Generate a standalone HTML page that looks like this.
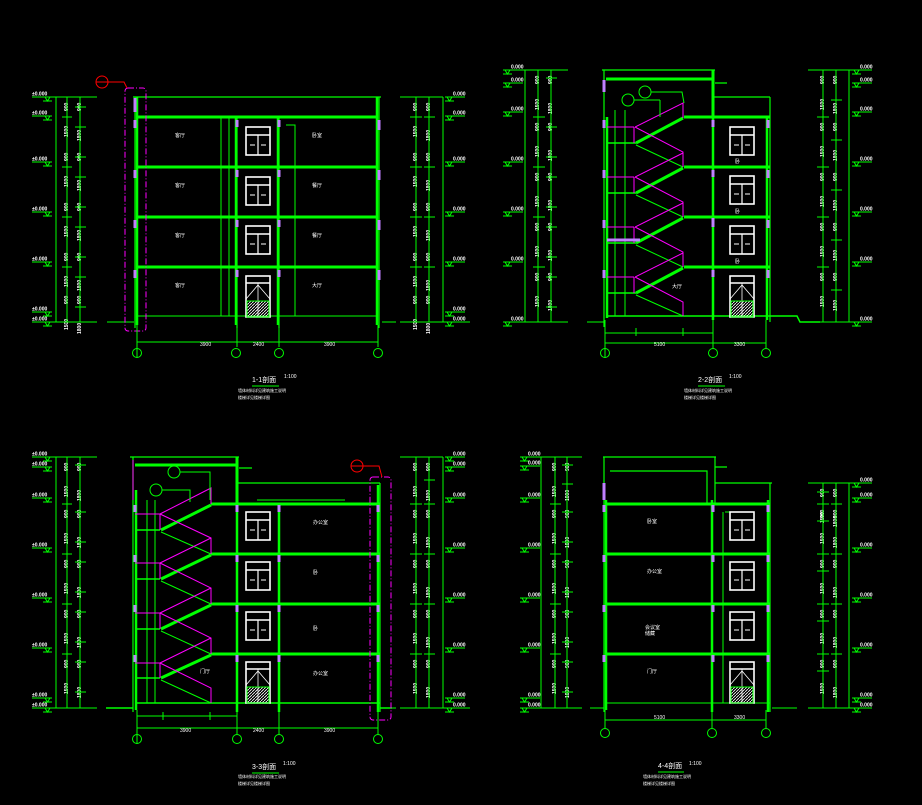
<!DOCTYPE html>
<html><head><meta charset="utf-8"><style>
html,body{margin:0;padding:0;background:#000;width:922px;height:805px;overflow:hidden}
svg{display:block}
text{font-family:"Liberation Sans","Noto Sans CJK SC",sans-serif;fill:#fff;stroke:none;font-size:5px}
.v{font-size:5px;font-weight:bold}
</style></head><body>
<svg width="922" height="805" viewBox="0 0 922 805" xmlns="http://www.w3.org/2000/svg">
<defs>
<g id="win"><rect x="0" y="0" width="24" height="28" fill="none" stroke="#fff" stroke-width="1.6"/><line x1="0" y1="8" x2="24" y2="8" stroke="#fff" stroke-width="1.6"/><line x1="12" y1="8" x2="12" y2="28" stroke="#fff" stroke-width="1.2"/><line x1="4" y1="18" x2="9" y2="18" stroke="#fff"/><line x1="15" y1="18" x2="20" y2="18" stroke="#fff"/></g>
<pattern id="hat" width="3" height="3" patternUnits="userSpaceOnUse"><path d="M0 3L3 0" stroke="#fff" stroke-width="0.8"/></pattern>
<g id="door"><rect x="0" y="0" width="24" height="41" fill="none" stroke="#fff" stroke-width="1.6"/><line x1="0" y1="7" x2="24" y2="7" stroke="#fff" stroke-width="1.4"/><path d="M0 23L12 9L24 23M12 7V41" stroke="#fff" fill="none" stroke-width="0.8"/><rect x="1" y="25" width="22" height="16" fill="url(#hat)"/></g>
<g id="em"><line x1="-20" y1="0" x2="0" y2="0" stroke="#0f0"/><path d="M-7 0L-2 0L-4.5 4Z M-9 4L0 4" stroke="#0f0" fill="none"/><text x="-20" y="-1.5" class="v">±0.000</text></g>
<g id="emr"><line x1="0" y1="0" x2="20" y2="0" stroke="#0f0"/><path d="M2 0L7 0L4.5 4Z M0 4L9 4" stroke="#0f0" fill="none"/><text x="8" y="-1.5" class="v">0.000</text></g>
<g id="ch"><text transform="rotate(-90)" x="-14" y="-1" class="v">900</text><text transform="rotate(-90)" x="-40" y="-1" class="v">1500</text><text transform="rotate(-90)" x="-14" y="12" class="v">900</text><text transform="rotate(-90)" x="-44" y="12" class="v">1800</text></g>
</defs>
<!-- dimension chain text -->
<use href="#ch" x="69" y="97"/><use href="#ch" x="69" y="147"/><use href="#ch" x="69" y="197"/><use href="#ch" x="69" y="247"/><use href="#ch" x="69" y="290"/>
<use href="#ch" x="418" y="97"/><use href="#ch" x="418" y="147"/><use href="#ch" x="418" y="197"/><use href="#ch" x="418" y="247"/><use href="#ch" x="418" y="290"/>
<use href="#ch" x="540" y="70"/><use href="#ch" x="540" y="117"/><use href="#ch" x="540" y="167"/><use href="#ch" x="540" y="217"/><use href="#ch" x="540" y="267"/>
<use href="#ch" x="825" y="70"/><use href="#ch" x="825" y="117"/><use href="#ch" x="825" y="167"/><use href="#ch" x="825" y="217"/><use href="#ch" x="825" y="267"/>
<use href="#ch" x="69" y="457"/><use href="#ch" x="69" y="504"/><use href="#ch" x="69" y="554"/><use href="#ch" x="69" y="604"/><use href="#ch" x="69" y="654"/>
<use href="#ch" x="418" y="457"/><use href="#ch" x="418" y="504"/><use href="#ch" x="418" y="554"/><use href="#ch" x="418" y="604"/><use href="#ch" x="418" y="654"/>
<use href="#ch" x="557" y="457"/><use href="#ch" x="557" y="504"/><use href="#ch" x="557" y="554"/><use href="#ch" x="557" y="604"/><use href="#ch" x="557" y="654"/>
<use href="#ch" x="825" y="483"/><use href="#ch" x="825" y="504"/><use href="#ch" x="825" y="554"/><use href="#ch" x="825" y="604"/><use href="#ch" x="825" y="654"/>
<g stroke="#0f0" fill="none">

<!-- ============ SECTION 1 ============ -->
<g>
<path d="M56 97V322M67 97V322M80 97V322M50 97H97M40 322H97"/>
<path d="M62 117H72M62 167H72M62 217H72M62 267H72M75 107H86M75 127H86M75 157H86M75 177H86M75 207H86M75 227H86M75 257H86M75 277H86M75 307H86"/>
<use href="#em" x="52" y="97"/><use href="#em" x="52" y="116"/><use href="#em" x="52" y="162"/><use href="#em" x="52" y="212"/><use href="#em" x="52" y="262"/><use href="#em" x="52" y="312"/><use href="#em" x="52" y="322"/>
<path d="M416 97V322M429 97V322M443 97V322M400 97H443M400 322H470M382 322H396"/>
<path d="M410 117H422M410 167H422M410 217H422M410 267H422M424 117H435M424 167H435M424 217H435M424 267H435"/>
<use href="#emr" x="445" y="97"/><use href="#emr" x="445" y="116"/><use href="#emr" x="445" y="162"/><use href="#emr" x="445" y="212"/><use href="#emr" x="445" y="262"/><use href="#emr" x="445" y="312"/><use href="#emr" x="445" y="322"/>
<path d="M133 97H381M135 97V328M379 97V328M237 118V328M279 118V328" stroke-width="1.2"/>
<path d="M137 117H378M137 167H378M137 217H378M137 267H378" stroke-width="3"/>
<path d="M137 316H378M107 322H134"/>
<path d="M137 97V325M377 97V325M236 118V325M278 118V325" stroke-width="2.5"/>
<path d="M221 118V316M229 118V316M286 125H295V316"/>
<g stroke="#c080ff" stroke-width="3"><path d="M135 98V112M135 120V128M135 170V178M135 220V228M135 270V278M379 120V130M379 170V180M379 220V230M379 270V280M237 120V127M237 170V177M237 220V227M237 270V277M279 120V127M279 170V177M279 220V227M279 270V277"/></g>
<use href="#win" x="246" y="127"/><use href="#win" x="246" y="177"/><use href="#win" x="246" y="226"/><use href="#door" x="246" y="276"/>
<rect x="125" y="88" width="21" height="243" rx="3" stroke="#f0f" stroke-dasharray="6 2 1 2"/>
<circle cx="102" cy="82" r="6" stroke="#f00"/><path d="M96 82H108M108 82H124L127 88" stroke="#f00"/>
<path d="M137 342H378M137 325V357M237 325V347M279 325V347M378 325V347"/>
<circle cx="137" cy="353" r="4.5"/><circle cx="236" cy="353" r="4.5"/><circle cx="279" cy="353" r="4.5"/><circle cx="378" cy="353" r="4.5"/>
<line x1="252" y1="386" x2="279" y2="386"/>
</g>

<!-- ============ SECTION 2 ============ -->
<g>
<path d="M525 70V322M538 70V322M551 70V322M520 70H568M503 322H568M587 322H604"/>
<path d="M533 117H545M533 167H545M533 217H545M533 267H545M546 78H557M546 127H557M546 157H557M546 177H557M546 207H557M546 227H557M546 257H557M546 277H557M546 307H557"/>
<use href="#emr" x="503" y="70"/><use href="#emr" x="503" y="83"/><use href="#emr" x="503" y="112"/><use href="#emr" x="503" y="162"/><use href="#emr" x="503" y="212"/><use href="#emr" x="503" y="262"/><use href="#emr" x="503" y="322"/>
<path d="M823 70V322M836 70V322M849 70V322M808 70H872M808 322H872"/>
<path d="M817 117H829M817 167H829M817 217H829M817 267H829M831 100H842M831 140H842M831 190H842M831 240H842M831 290H842"/>
<use href="#emr" x="852" y="70"/><use href="#emr" x="852" y="83"/><use href="#emr" x="852" y="112"/><use href="#emr" x="852" y="162"/><use href="#emr" x="852" y="212"/><use href="#emr" x="852" y="262"/><use href="#emr" x="852" y="322"/>
<path d="M602 70H715M604 70V327M770 97V322M713 97H770M715 83H727" stroke-width="1.2"/>
<path d="M606 79H713M713 70V117M684 117H770M684 167H770M684 217H770M684 267H770" stroke-width="3"/>
<path d="M606 316H770M770 316H797L800 322H820M607 143H636M607 193H636M607 243H636M607 293H636" stroke-width="1.5"/>
<path d="M607 117V318M713 117V320M767 117V320" stroke-width="2.5"/>
<path d="M615 110V316M625 110V316"/>
<path d="M636 143L683 118M636 193L683 168M636 243L683 218M636 293L683 268" stroke-width="3"/>
<path d="M636 145L683 167M636 195L683 217M636 245L683 267M636 295L683 316"/>
<path d="M635 127L683 103V118M635 127L683 152V167M635 177L683 153M635 177L683 202V217M635 227L683 203M635 227L683 252V267M635 277L683 253M635 277L683 302V316M634 127V143M634 177V193M634 227V243M634 277V293M607 127H634M607 177H634M607 227H634M607 277H634" stroke="#f0f"/>
<g stroke="#c080ff" stroke-width="3"><path d="M604 80V92M604 120V128M604 170V178M604 220V228M604 270V278M713 120V127M713 170V177M713 220V227M713 270V277M768 120V128M768 170V178M768 220V228M768 270V278M607 240H640M713 218L713 225"/></g>
<circle cx="628" cy="100" r="6"/><circle cx="645" cy="92" r="6"/><path d="M634 100H660M651 92H682L684 103M660 100V117"/>
<use href="#win" x="730" y="127"/><use href="#win" x="730" y="176"/><use href="#win" x="730" y="226"/><use href="#door" x="730" y="276"/>
<path d="M605 333H713M605 343H766M605 320V358M636 328V336M683 328V336M713 320V348M766 320V348"/>
<circle cx="605" cy="353" r="4.5"/><circle cx="713" cy="353" r="4.5"/><circle cx="766" cy="353" r="4.5"/>
<line x1="698" y1="386" x2="725" y2="386"/>
</g>

<!-- ============ SECTION 3 ============ -->
<g>
<path d="M56 457V708M67 457V708M80 457V708M50 457H97M40 708H97"/>
<path d="M62 504H72M62 554H72M62 604H72M62 654H72M75 465H86M75 512H86M75 542H86M75 562H86M75 592H86M75 612H86M75 642H86M75 662H86M75 692H86"/>
<use href="#em" x="52" y="457"/><use href="#em" x="52" y="467"/><use href="#em" x="52" y="498"/><use href="#em" x="52" y="548"/><use href="#em" x="52" y="598"/><use href="#em" x="52" y="648"/><use href="#em" x="52" y="698"/><use href="#em" x="52" y="708"/>
<path d="M416 457V708M429 457V708M443 457V708M400 457H443M400 708H470M382 708H396"/>
<path d="M410 504H422M410 554H422M410 604H422M410 654H422M424 480H435M424 504H435M424 554H435M424 604H435M424 654H435"/>
<use href="#emr" x="445" y="457"/><use href="#emr" x="445" y="467"/><use href="#emr" x="445" y="498"/><use href="#emr" x="445" y="548"/><use href="#emr" x="445" y="598"/><use href="#emr" x="445" y="648"/><use href="#emr" x="445" y="698"/><use href="#emr" x="445" y="708"/>
<path d="M130 457H239M133 457V712M236 483H380M380 483V712M239 468H252" stroke-width="1.2"/>
<path d="M135 465H237M237 457V504M211 504H380M211 554H380M211 604H380M211 654H380" stroke-width="3"/>
<path d="M137 703H380M106 708H133M380 708H392M135 530H160M135 579H160M135 629H160M135 678H160" stroke-width="1.5"/>
<path d="M136 490V710M237 504V712M279 504V712M378 485V712" stroke-width="2.5"/>
<path d="M147 500V703M155 500V703M257 500H345"/>
<path d="M161 530L211 505M161 579L211 555M161 629L211 605M161 678L211 655" stroke-width="3"/>
<path d="M161 532L211 554M161 581L211 604M161 631L211 654M161 680L211 703"/>
<path d="M160 514L211 488V504M160 514L211 538V554M160 563L211 538M160 563L211 588V604M160 613L211 588M160 613L211 638V654M160 663L211 638M160 663L211 688V703M160 514V530M160 563V579M160 613V629M160 663V678M135 514H160M135 563H160M135 613H160M135 663H160M133 460V500" stroke="#f0f"/>
<g stroke="#c080ff" stroke-width="3"><path d="M135 505V512M135 555V562M135 605V612M135 655V662M237 505V512M237 555V562M237 605V612M237 655V662M279 505V512M279 555V562M279 605V612M279 655V662M378 505V512M378 555V562M378 605V612M378 655V662"/></g>
<circle cx="174" cy="472" r="6"/><circle cx="156" cy="490" r="6"/><path d="M180 472H210V500M162 490H190V502"/>
<rect x="370" y="477" width="21" height="243" rx="3" stroke="#f0f" stroke-dasharray="6 2 1 2"/>
<circle cx="357" cy="466" r="6" stroke="#f00"/><path d="M351 466H363M363 466H379L382 477" stroke="#f00"/>
<use href="#win" x="246" y="512"/><use href="#win" x="246" y="562"/><use href="#win" x="246" y="612"/><use href="#door" x="246" y="662"/>
<path d="M137 716H237M137 728H378M137 710V744M163 712V720M210 712V720M237 712V734M279 712V734M378 712V734"/>
<circle cx="137" cy="739" r="4.5"/><circle cx="237" cy="739" r="4.5"/><circle cx="279" cy="739" r="4.5"/><circle cx="378" cy="739" r="4.5"/>
<line x1="252" y1="773" x2="279" y2="773"/>
</g>

<!-- ============ SECTION 4 ============ -->
<g>
<path d="M541 457V708M555 457V708M567 457V708M536 457H582M520 708H582M590 708H604"/>
<path d="M550 504H561M550 554H561M550 604H561M550 654H561M562 465H573M562 484H573M562 512H573M562 542H573M562 562H573M562 592H573M562 612H573M562 642H573M562 662H573M562 692H573"/>
<use href="#emr" x="520" y="457"/><use href="#emr" x="520" y="466"/><use href="#emr" x="520" y="498"/><use href="#emr" x="520" y="548"/><use href="#emr" x="520" y="598"/><use href="#emr" x="520" y="648"/><use href="#emr" x="520" y="698"/><use href="#emr" x="520" y="708"/>
<path d="M823 483V708M836 483V708M849 483V708M808 483H872M808 708H872M772 708H797"/>
<path d="M817 504H829M817 554H829M817 604H829M817 654H829M831 504H842M831 554H842M831 604H842M831 654H842M817 492H829M817 521H829M817 571H829M817 621H829M817 671H829"/>
<use href="#emr" x="852" y="483"/><use href="#emr" x="852" y="498"/><use href="#emr" x="852" y="548"/><use href="#emr" x="852" y="598"/><use href="#emr" x="852" y="648"/><use href="#emr" x="852" y="698"/><use href="#emr" x="852" y="708"/>
<path d="M603 457H716M604 457V712M715 457V503M715 483H772M770 483V712M610 471H707V503M715 467H727" stroke-width="1.2"/>
<path d="M606 504H770M606 554H770M606 604H770M606 654H770" stroke-width="3"/>
<path d="M606 703H770"/>
<path d="M606 500V710M712 500V712M768 500V712" stroke-width="2.5"/>
<path d="M723 512V703M725 512H740"/>
<g stroke="#c080ff" stroke-width="3"><path d="M604 483V500M604 505V512M604 555V562M604 605V612M604 655V662M713 505V512M713 555V562M713 605V612M713 655V662M768 505V512M768 555V562M768 605V612M768 655V662"/></g>
<use href="#win" x="730" y="512"/><use href="#win" x="730" y="562"/><use href="#win" x="730" y="612"/><use href="#door" x="730" y="662"/>
<path d="M605 720H766M605 710V728M712 710V728M766 710V728"/>
<circle cx="605" cy="733" r="4.5"/><circle cx="712" cy="733" r="4.5"/><circle cx="766" cy="733" r="4.5"/>
<line x1="658" y1="772" x2="684" y2="772"/>
</g>
</g>

<g>
<text x="175" y="137">客厅</text><text x="312" y="137">卧室</text>
<text x="175" y="187">客厅</text><text x="312" y="187">餐厅</text>
<text x="175" y="237">客厅</text><text x="312" y="237">餐厅</text>
<text x="175" y="287">客厅</text><text x="312" y="287">大厅</text>
<text x="672" y="288">大厅</text><text x="735" y="163">卧</text><text x="735" y="213">卧</text><text x="735" y="263">卧</text>
<text x="313" y="524">办公室</text><text x="313" y="574">卧</text><text x="313" y="630">卧</text><text x="313" y="675">办公室</text><text x="200" y="673">门厅</text>
<text x="647" y="523">卧室</text><text x="647" y="573">办公室</text><text x="645" y="629">会议室</text><text x="645" y="635">储藏</text><text x="647" y="673">门厅</text>
<text x="200" y="346">3900</text><text x="253" y="346">2400</text><text x="324" y="346">3900</text>
<text x="654" y="346">5100</text><text x="734" y="346">3300</text>
<text x="180" y="732">3900</text><text x="253" y="732">2400</text><text x="324" y="732">3900</text>
<text x="654" y="719">5100</text><text x="734" y="719">3300</text>
<text x="252" y="382" style="font-size:7px">1-1剖面</text><text x="284" y="378">1:100</text>
<text x="238" y="392" style="font-size:4px">墙体材料详见建筑施工说明</text><text x="238" y="399" style="font-size:4px">楼梯详见楼梯详图</text>
<text x="698" y="382" style="font-size:7px">2-2剖面</text><text x="729" y="378">1:100</text>
<text x="684" y="392" style="font-size:4px">墙体材料详见建筑施工说明</text><text x="684" y="399" style="font-size:4px">楼梯详见楼梯详图</text>
<text x="252" y="769" style="font-size:7px">3-3剖面</text><text x="283" y="765">1:100</text>
<text x="238" y="778" style="font-size:4px">墙体材料详见建筑施工说明</text><text x="238" y="785" style="font-size:4px">楼梯详见楼梯详图</text>
<text x="658" y="768" style="font-size:7px">4-4剖面</text><text x="689" y="765">1:100</text>
<text x="643" y="778" style="font-size:4px">墙体材料详见建筑施工说明</text><text x="643" y="785" style="font-size:4px">楼梯详见楼梯详图</text>
</g>
</svg>
</body></html>
